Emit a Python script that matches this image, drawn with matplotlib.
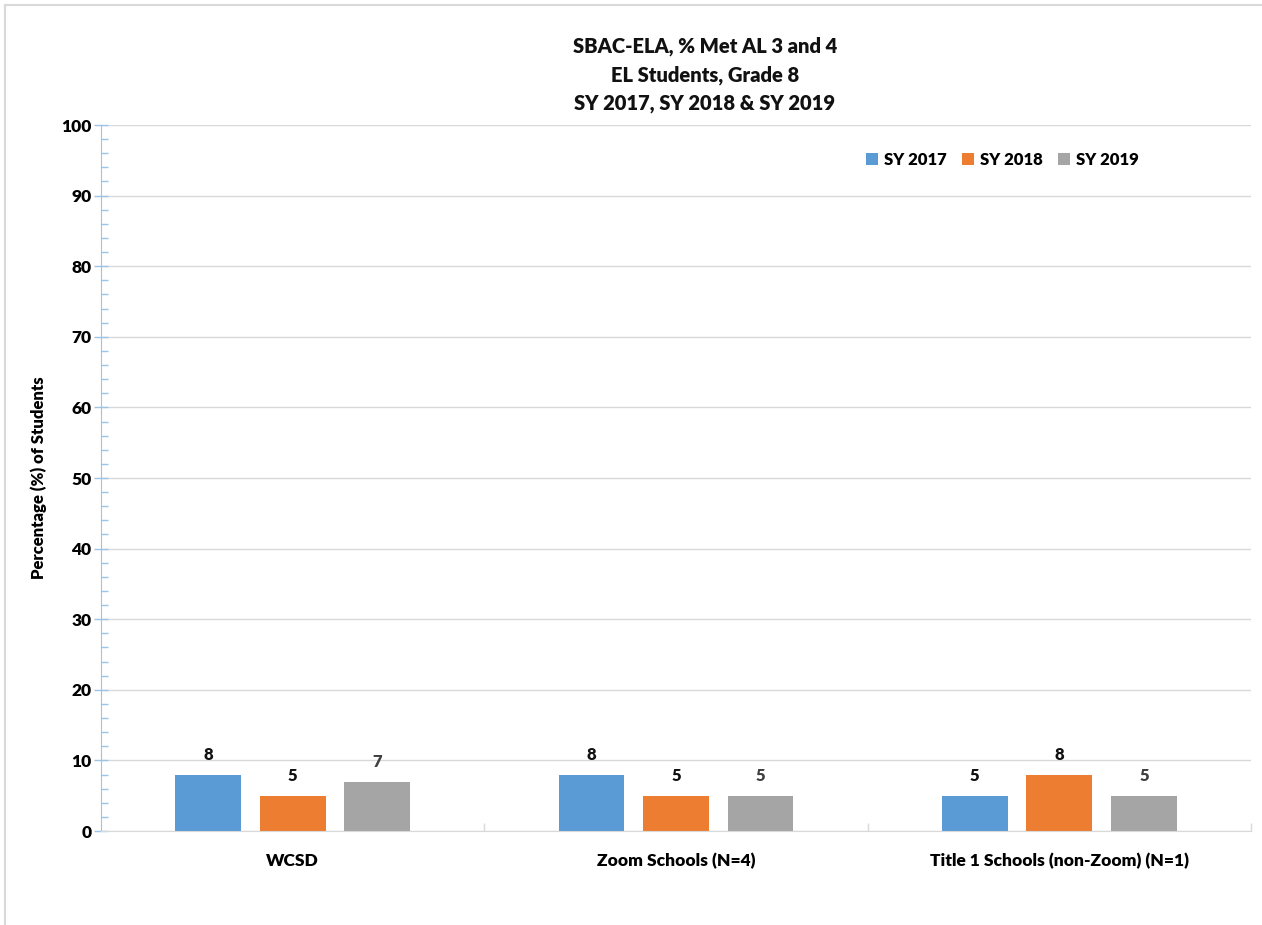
import matplotlib
matplotlib.use("Agg")
import matplotlib.pyplot as plt
from matplotlib.lines import Line2D
from matplotlib.ticker import MultipleLocator, FixedLocator
import numpy as np

plt.rcParams['font.family'] = ['Lato', 'DejaVu Sans']
W = "heavy"

categories = ["WCSD", "Zoom Schools (N=4)", "Title 1 Schools (non-Zoom) (N=1)"]
series_names = ["SY 2017", "SY 2018", "SY 2019"]
sy2017 = [8, 8, 5]
sy2018 = [5, 5, 8]
sy2019 = [7, 5, 5]

colors = ["#5B9BD5", "#ED7D31", "#A5A5A5"]
label_colors = ["#111111", "#111111", "#404040"]

fig = plt.figure(figsize=(12.62, 9.25), dpi=100)
ax = fig.add_axes([101 / 1262, 94 / 925, 1150 / 1262, 706 / 925])

x = np.arange(len(categories))
width = 0.172
step = 0.2205
for i, (name, vals) in enumerate(zip(series_names, [sy2017, sy2018, sy2019])):
    pos = x + (i - 1) * step
    bars = ax.bar(pos, vals, width, color=colors[i], label=name, zorder=3)
    for b, v in zip(bars, vals):
        ax.text(b.get_x() + b.get_width() / 2, v + 1.6, f"{v}", ha="center",
                va="bottom", fontsize=12, fontweight=W,
                color=label_colors[i])

ax.set_xlim(-0.5, 2.5)
ax.set_ylim(0, 100)

# y axis: major ticks every 10, minor every 2
ax.yaxis.set_major_locator(MultipleLocator(10))
ax.yaxis.set_minor_locator(MultipleLocator(2))
ax.tick_params(axis="y", which="major", direction="inout", length=10,
               color="#9DC3E6", width=1, labelsize=12.5, pad=2)
ax.tick_params(axis="y", which="minor", direction="in", length=5,
               color="#9DC3E6", width=1)
for t in ax.get_yticklabels():
    t.set_fontweight(W)

# x axis: category labels, boundary ticks between groups
ax.set_xticks(x)
ax.set_xticklabels(categories, fontsize=12.5, fontweight=W)
ax.tick_params(axis="x", which="major", length=0, pad=16)
ax.xaxis.set_minor_locator(FixedLocator([0.5, 1.5, 2.5]))
ax.tick_params(axis="x", which="minor", direction="in", length=6,
               color="#D9D9D9", width=1)

ax.grid(axis="y", which="major", color="#D9D9D9", linewidth=1, zorder=0)
ax.set_axisbelow(True)

for s in ["top", "right"]:
    ax.spines[s].set_visible(False)
ax.spines["left"].set_color("#9DC3E6")
ax.spines["bottom"].set_color("#D9D9D9")
ax.spines["bottom"].set_zorder(4)

ax.set_ylabel("Percentage (%) of Students", fontsize=12, fontweight=W,
              labelpad=10)

fig.text(705 / 1262, 1 - 75 / 925, "SBAC-ELA, % Met AL 3 and 4\nEL Students, Grade 8\nSY 2017, SY 2018 & SY 2019",
         ha="center", va="center", fontsize=14.5, fontweight=W,
         linespacing=1.55, color="#111111")

leg = ax.legend(loc="upper left", bbox_to_anchor=(750 / 1150, 1 - 12 / 706),
                ncol=3, frameon=False, handlelength=0.7,
                handleheight=0.7, handletextpad=0.4, columnspacing=0.9,
                prop={"weight": W, "size": 12})

# chart frame: top and left edges
fig.add_artist(Line2D([5 / 1262, 1], [1 - 5 / 925, 1 - 5 / 925],
                      transform=fig.transFigure, color="#D9D9D9", lw=1.5))
fig.add_artist(Line2D([5 / 1262, 5 / 1262], [0, 1 - 5 / 925],
                      transform=fig.transFigure, color="#D9D9D9", lw=1.5))

fig.savefig("out.png", dpi=100)
